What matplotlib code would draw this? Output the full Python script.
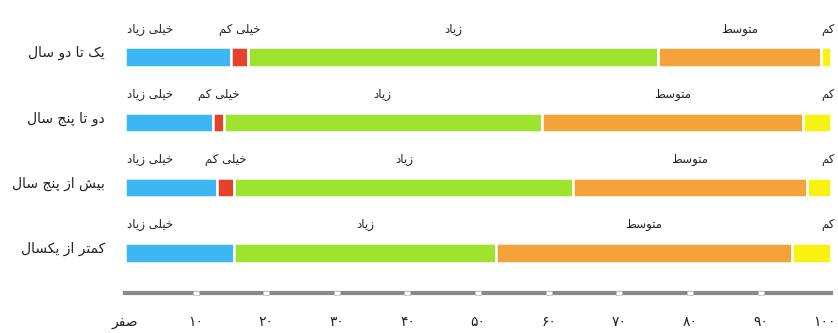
import numpy as np
import matplotlib.pyplot as plt
from matplotlib.transforms import ScaledTranslation

# داده ها
categories = ['یک تا دو سال', 'دو تا پنج سال', 'بیش از پنج سال', 'کمتر از یکسال']
segments = ['خیلی زیاد', 'خیلی کم', 'زیاد', 'متوسط', 'کم']
very_high = [15.0, 12.5, 13.0, 15.5]
very_low = [2.5, 1.5, 2.5, 0.0]
high = [58.0, 45.0, 48.0, 37.0]
medium = [23.0, 37.0, 33.0, 42.0]
low = [1.5, 4.0, 3.5, 5.5]
tick_values = [0, 10, 20, 30, 40, 50, 60, 70, 80, 90, 100]
tick_labels = ['صفر', '۱۰', '۲۰', '۳۰', '۴۰', '۵۰', '۶۰', '۷۰', '۸۰', '۹۰', '۱۰۰']

colors = ['#3db6f3', '#e6412b', '#9ee42f', '#f4a33a', '#f7f212']

# شکل دادن حروف فارسی (matplotlib خودش این کار را نمی کند)
# (isolated, final, initial, medial)
FORMS = {
    'ا': ('\ufe8d', '\ufe8e', None, None),
    'ب': ('\ufe8f', '\ufe90', '\ufe91', '\ufe92'),
    'پ': ('\ufb56', '\ufb57', '\ufb58', '\ufb59'),
    'ت': ('\ufe95', '\ufe96', '\ufe97', '\ufe98'),
    'ج': ('\ufe9d', '\ufe9e', '\ufe9f', '\ufea0'),
    'خ': ('\ufea5', '\ufea6', '\ufea7', '\ufea8'),
    'د': ('\ufea9', '\ufeaa', None, None),
    'ر': ('\ufead', '\ufeae', None, None),
    'ز': ('\ufeaf', '\ufeb0', None, None),
    'س': ('\ufeb1', '\ufeb2', '\ufeb3', '\ufeb4'),
    'ش': ('\ufeb5', '\ufeb6', '\ufeb7', '\ufeb8'),
    'ص': ('\ufeb9', '\ufeba', '\ufebb', '\ufebc'),
    'ط': ('\ufec1', '\ufec2', '\ufec3', '\ufec4'),
    'ف': ('\ufed1', '\ufed2', '\ufed3', '\ufed4'),
    'ک': ('\ufb8e', '\ufb8f', '\ufb90', '\ufb91'),
    'ل': ('\ufedd', '\ufede', '\ufedf', '\ufee0'),
    'م': ('\ufee1', '\ufee2', '\ufee3', '\ufee4'),
    'ن': ('\ufee5', '\ufee6', '\ufee7', '\ufee8'),
    'و': ('\ufeed', '\ufeee', None, None),
    'ی': ('\ufbfc', '\ufbfd', '\ufbfe', '\ufbff'),
}


def dual(c):
    return c in FORMS and FORMS[c][2] is not None


def shape(text):
    if not any(c in FORMS for c in text):
        return text  # اعداد چپ به راست می مانند
    out = []
    i = 0
    n = len(text)
    while i < n:
        c = text[i]
        if c not in FORMS:
            out.append(c)
            i += 1
            continue
        prev = text[i - 1] if i > 0 else ''
        join_prev = dual(prev)
        # لا
        if c == 'ل' and i + 1 < n and text[i + 1] == 'ا':
            out.append('\ufefc' if join_prev else '\ufefb')
            i += 2
            continue
        nxt = text[i + 1] if i + 1 < n else ''
        join_next = dual(c) and nxt in FORMS
        f = FORMS[c]
        if join_prev and join_next:
            out.append(f[3])
        elif join_prev:
            out.append(f[1])
        elif join_next:
            out.append(f[2])
        else:
            out.append(f[0])
        i += 1
    return ''.join(out)[::-1]


plt.rcParams['font.family'] = ['DejaVu Sans']

fig = plt.figure(figsize=(8.38, 3.33), dpi=100)
ax = fig.add_axes([0.149, 0.12, 0.843, 0.88])

series = [very_high, very_low, high, medium, low]
y = np.arange(len(categories))
left = np.zeros(len(categories))
for k, vals in enumerate(series):
    vals = np.array(vals)
    ax.barh(y, vals, left=left, height=0.3, color=colors[k],
            edgecolor='white', linewidth=1.8)
    for r in range(len(categories)):
        if vals[r] <= 0:
            continue
        if k == 0:
            xpos, ha = left[r] + 0.3, 'left'
        elif k == len(series) - 1:
            xpos, ha = 100.5, 'right'
        else:
            xpos, ha = left[r] + vals[r] / 2, 'center'
        ax.text(xpos, y[r] - 0.43, shape(segments[k]), ha=ha, va='center',
                fontsize=8.5, color='#222222')
    left = left + vals

for r, cat in enumerate(categories):
    ax.text(-2.8, y[r] - 0.06, shape(cat), ha='right', va='center',
            fontsize=10, color='#222222')

ax.set_xlim(0, 100)
ax.set_ylim(3.615, -0.877)
ax.set_yticks([])
ax.set_xticks(tick_values)
ax.set_xticklabels([shape(t) for t in tick_labels], fontsize=10, color='#222222')
ax.tick_params(axis='x', length=0, pad=16)
last = ax.get_xticklabels()[-1]
last.set_transform(last.get_transform() + ScaledTranslation(-5 / 72, 0, fig.dpi_scale_trans))
for s in ['top', 'right', 'left']:
    ax.spines[s].set_visible(False)
ax.spines['bottom'].set_color('#8a8a8a')
ax.spines['bottom'].set_linewidth(3)

# علامت های سفید روی محور
box = [(-1, -0.5), (1, -0.5), (1, 0.5), (-1, 0.5), (-1, -0.5)]
ax.plot(tick_values[1:-1], [3.615] * 9, ls='none', marker=box, ms=5,
        mfc='white', mec='#bbbbbb', mew=0.5, clip_on=False, zorder=5)

fig.savefig('out.png', dpi=100)
